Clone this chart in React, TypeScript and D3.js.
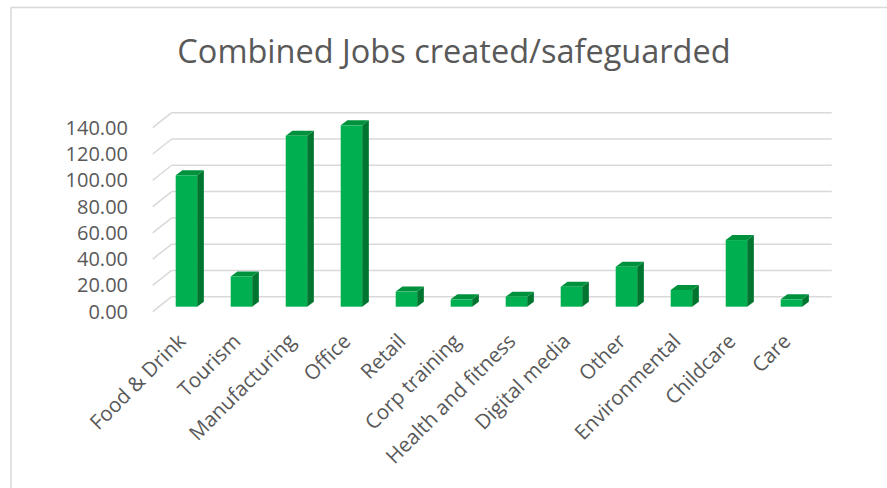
import React from "react";
import * as d3 from "d3";

const categories = [
  "Food & Drink",
  "Tourism",
  "Manufacturing",
  "Office",
  "Retail",
  "Corp training",
  "Health and fitness",
  "Digital media",
  "Other",
  "Environmental",
  "Childcare",
  "Care",
];
const jobs = [100, 23, 130, 138, 11.5, 5.6, 7.6, 15.2, 30.4, 12.7, 50.7, 5.6];
const yTicks = [0, 20, 40, 60, 80, 100, 120, 140];
const title = "Combined Jobs created/safeguarded";

const W = 887;
const H = 488;
const FONT = "'Open Sans', sans-serif";
const TEXT = "#595959";
const GRID = "#d9d9d9";

export default function App() {
  const x = d3.scaleBand<string>().domain(categories).range([171.7, 831.7]).padding(0);
  const y = d3.scaleLinear().domain([0, 140]).range([296.7, 112.7]);

  // 3D offsets
  const wallDx = -19;
  const wallDy = 15;
  const barFrontDy = 10;
  const depthDx = 6.7;
  const depthDy = -5;
  const barW = x.bandwidth() * 0.39;
  const barOff = 4;

  return (
    <svg
      width={W}
      height={H}
      style={{ position: "absolute", left: 0, top: 0, display: "block", background: "#fff" }}
      fontFamily={FONT}
    >
      {/* chart border */}
      <path d={`M11,${H} L11,7.5 L${W},7.5`} fill="none" stroke={GRID} strokeWidth={1.5} />

      <text x={454} y={62.5} textAnchor="middle" fontSize={32.5} fill={TEXT}>
        {title}
      </text>

      {/* gridlines */}
      {yTicks.map((t) => (
        <g key={t}>
          <line x1={x.range()[0]} x2={x.range()[1]} y1={y(t)} y2={y(t)} stroke={GRID} strokeWidth={1.5} />
          <line
            x1={x.range()[0] + wallDx}
            y1={y(t) + wallDy}
            x2={x.range()[0]}
            y2={y(t)}
            stroke={GRID}
            strokeWidth={1.5}
          />
          <text
            x={128}
            y={y(t) + wallDy}
            dy="0.35em"
            textAnchor="end"
            fontSize={20}
            fill={TEXT}
          >
            {d3.format(".2f")(t)}
          </text>
        </g>
      ))}

      {/* bars */}
      {categories.map((c, i) => {
        const v = jobs[i];
        const x0 = (x(c) as number) + barOff;
        const x1 = x0 + barW;
        const yb = y(0) + barFrontDy;
        const yt = y(v) + barFrontDy;
        return (
          <g key={c}>
            <path
              d={`M${x1},${yb} L${x1 + depthDx},${yb + depthDy} L${x1 + depthDx},${yt + depthDy} L${x1},${yt} Z`}
              fill="#00752f"
            />
            <path
              d={`M${x0},${yt} L${x0 + depthDx},${yt + depthDy} L${x1 + depthDx},${yt + depthDy} L${x1},${yt} Z`}
              fill="#00913d"
            />
            <rect x={x0} y={yt} width={barW} height={yb - yt} fill="#00b050" />
          </g>
        );
      })}

      {/* category labels */}
      {categories.map((c) => {
        const cx = (x(c) as number) + barOff + barW / 2 + 0.5;
        const cy = 342.5;
        return (
          <text
            key={c}
            transform={`translate(${cx},${cy}) rotate(-45)`}
            textAnchor="end"
            fontSize={20.5}
            fill={TEXT}
          >
            {c}
          </text>
        );
      })}
    </svg>
  );
}
